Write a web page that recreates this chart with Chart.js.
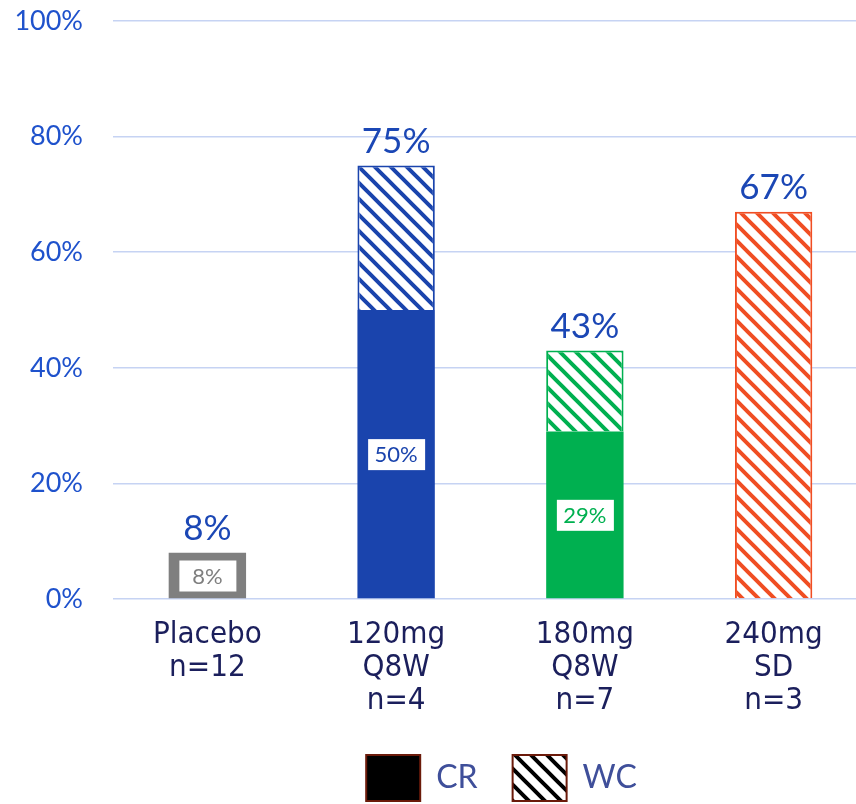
<!DOCTYPE html>
<html>
<head>
<meta charset="utf-8">
<title>CR / WC response by dose</title>
<script src="https://cdn.jsdelivr.net/npm/chart.js@4.4.0/dist/chart.umd.min.js"></script>
<style>
	html, body { margin: 0; padding: 0; background: #fff; overflow: hidden; }
	#clip { width: 856px; height: 804px; overflow: hidden; }
	#wrap { width: 868px; height: 804px; position: relative; }
</style>
</head>
<body>
<div id="clip"><div id="wrap"><canvas id="responseChart"></canvas></div></div>
<script>
var groupLabels = [["Placebo", "n=12"], ["120mg", "Q8W", "n=4"], ["180mg", "Q8W", "n=7"], ["240mg", "SD", "n=3"]];
var crValues = [8, 50, 29, null];
var wcValues = [null, 25, 14, 67];
var yTicks = [0, 20, 40, 60, 80, 100];

var groupColors = ["#7f7f7f", "#1a44ad", "#00b050", "#f04e23"];

// diagonal stripes on white, running top-left to bottom-right
function hatch (color) {
	var size = 16;
	var c = document.createElement("canvas");
	c.width = size;
	c.height = size;
	var g = c.getContext("2d");
	g.fillStyle = "#fff";
	g.fillRect(0, 0, size, size);
	g.strokeStyle = color;
	g.lineWidth = 4;
	g.beginPath();
	for (var k = -size; k <= size; k += size) {
		g.moveTo(k - 2, -2);
		g.lineTo(k + size + 2, size + 2);
	}
	g.stroke();
	return g.createPattern(c, "repeat");
}

var barLabels = {
	id: "barLabels",
	afterLayout: function (chart) {
		// nudge the legend a little to the right
		chart.legend.left += 11;
		chart.legend.right += 11;
	},
	afterDatasetsDraw: function (chart) {
		var ctx = chart.ctx;
		var yScale = chart.scales.y;
		var meta = chart.getDatasetMeta(0);
		ctx.save();
		ctx.textAlign = "center";
		ctx.textBaseline = "middle";

		// CR value in a white box
		ctx.font = "22px Lato";
		meta.data.forEach(function (bar, i) {
			if (!crValues[i]) return;
			var y = (bar.y + bar.base) / 2;
			ctx.fillStyle = "#fff";
			ctx.fillRect(bar.x - 28, y - 15, 57, 31);
			ctx.fillStyle = groupColors[i];
			ctx.fillText(crValues[i] + "%", bar.x, y + 1);
		});

		// total above the stack
		ctx.font = "35px Lato";
		ctx.fillStyle = "#1b47b5";
		meta.data.forEach(function (bar, i) {
			var total = (crValues[i] || 0) + (wcValues[i] || 0);
			var y = yScale.getPixelForValue(total);
			ctx.fillText(Math.round(total) + "%", bar.x, y - 24);
		});
		ctx.restore();
	}
};

function loadResponseChart () {
	var data = {
		labels: groupLabels,
		datasets: [{
			label: "CR",
			data: crValues,
			backgroundColor: groupColors,
			borderWidth: 0,
			stack: "resp"
		}, {
			label: "WC",
			data: wcValues,
			backgroundColor: groupColors.map(hatch),
			borderColor: groupColors,
			borderWidth: 2,
			stack: "resp"
		}]
	};

	var options = {
		responsive: true,
		maintainAspectRatio: false,
		animation: false,
		layout: {
			padding: { top: 21, right: 0, bottom: -7, left: 0 }
		},
		datasets: {
			bar: { categoryPercentage: 1, barPercentage: 0.41 }
		},
		scales: {
			x: {
				stacked: true,
				grid: { display: false, drawTicks: false },
				border: { display: false },
				afterFit: function (scale) { scale.height = 121; },
				ticks: {
					color: "#1b1f5c",
					padding: 19,
					font: { family: "'DejaVu Sans Condensed', 'DejaVu Sans'", size: 31, lineHeight: 1.065 }
				}
			},
			y: {
				stacked: true,
				min: 0,
				max: 100,
				afterBuildTicks: function (scale) {
					scale.ticks = yTicks.map(function (v) { return { value: v }; });
				},
				afterFit: function (scale) {
					scale.width = 113;
					scale.paddingTop = 0;
					scale.paddingBottom = 0;
				},
				grid: { color: "#c6d3f3", lineWidth: 1.5, drawTicks: false },
				border: { display: false },
				ticks: {
					color: "#1f52cc",
					padding: 30,
					font: { family: "Lato", size: 27 },
					callback: function (v) { return v + "%"; }
				}
			}
		},
		plugins: {
			tooltip: { enabled: false },
			legend: {
				position: "bottom",
				fullSize: false,
				labels: {
					boxWidth: 54,
					boxHeight: 46,
					padding: 35,
					color: "#3f4f9a",
					font: { family: "Lato", size: 32 },
					generateLabels: function () {
						return [{
							text: "CR", fillStyle: "#000", strokeStyle: "#6b1a0a",
							lineWidth: 2, hidden: false, datasetIndex: 0, fontColor: "#3f4f9a"
						}, {
							text: "WC", fillStyle: hatch("#000"), strokeStyle: "#6b1a0a",
							lineWidth: 2, hidden: false, datasetIndex: 1, fontColor: "#3f4f9a"
						}];
					}
				}
			}
		}
	};

	var ctx = document.getElementById("responseChart");
	new Chart(ctx, {
		type: "bar",
		data: data,
		options: options,
		plugins: [barLabels]
	});
}
window.addEventListener("load", function () { loadResponseChart(); });
</script>
</body>
</html>
